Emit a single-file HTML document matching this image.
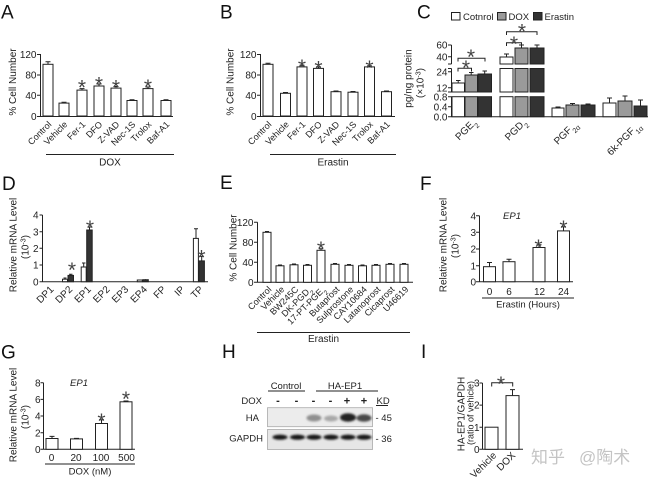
<!DOCTYPE html>
<html><head><meta charset="utf-8"><style>
html,body{margin:0;padding:0;background:#fff;}
svg{display:block;}
text{font-family:"Liberation Sans",Arial,sans-serif;fill:#222;}
.ax{stroke:#222;stroke-width:1;fill:none}
.b{fill:#fff;stroke:#222;stroke-width:1}
.g{fill:#9a9a9a;stroke:#222;stroke-width:1}
.k{fill:#333;stroke:#222;stroke-width:1}
.s{font-size:21px;text-anchor:middle;fill:#444}
.L{font-size:19px;fill:#111}
.tk{font-size:10px;text-anchor:end}
.xl{font-size:9px;text-anchor:end}
.xd{font-size:10px;text-anchor:end}
.yl{font-size:10px;text-anchor:middle}
.c{text-anchor:middle}
</style></head><body>
<svg width="652" height="482" viewBox="0 0 652 482" xmlns="http://www.w3.org/2000/svg">
<defs><filter id="bl" x="-50%" y="-100%" width="200%" height="300%"><feGaussianBlur stdDeviation="1.1"/></filter></defs>
<rect width="652" height="482" fill="#fff"/>

<!-- Panel letters -->
<text class="L" x="1" y="18.5">A</text>
<text class="L" x="220" y="18.5">B</text>
<text class="L" x="417" y="18.5">C</text>
<text class="L" x="2" y="190">D</text>
<text class="L" x="220" y="189">E</text>
<text class="L" x="420" y="190">F</text>
<text class="L" x="1" y="358.5">G</text>
<text class="L" x="222" y="358">H</text>
<text class="L" x="421" y="358">I</text>

<!-- ===== Panel A ===== -->
<path class="ax" d="M40.5 54V116.5H173M37 54.5H40.5M37 75H40.5M37 95.3H40.5M37 116.5H40.5"/>
<text class="tk" x="36.5" y="58">120</text>
<text class="tk" x="36.5" y="78.5">80</text>
<text class="tk" x="36.5" y="99">40</text>
<text class="tk" x="36.5" y="120">0</text>
<text class="yl" transform="translate(16.2,82) rotate(-90)">% Cell Number</text>
<g class="b">
<rect x="43" y="64.3" width="10" height="51.7"/>
<rect x="59" y="103.1" width="10" height="12.9"/>
<rect x="77" y="90.1" width="10" height="25.9"/>
<rect x="94" y="86" width="10" height="30"/>
<rect x="111" y="88.1" width="10" height="27.9"/>
<rect x="127" y="100.5" width="10" height="15.5"/>
<rect x="143" y="88.6" width="10" height="27.4"/>
<rect x="161" y="100.5" width="10" height="15.5"/>
</g>
<path class="ax" d="M48 64.3V61.7M45.5 61.7H50.5M64 103.1V102.3M61.5 102.3H66.5M82 90.1V88.6M79.5 88.6H84.5M99 86V84M96.5 84H101.5M116 88.1V86.5M113.5 86.5H118.5M132 100.5V99.7M129.5 99.7H134.5M148 88.6V87M145.5 87H150.5M166 100.5V99.7M163.5 99.7H168.5"/>
<text class="s" x="82" y="94.3">*</text>
<text class="s" x="99" y="91.3">*</text>
<text class="s" x="116" y="94.3">*</text>
<text class="s" x="148" y="93.8">*</text>
<text class="xl" transform="translate(52,125) rotate(-45)">Control</text>
<text class="xl" transform="translate(68,125) rotate(-45)">Vehicle</text>
<text class="xl" transform="translate(86,125) rotate(-45)">Fer-1</text>
<text class="xl" transform="translate(103,125) rotate(-45)">DFO</text>
<text class="xl" transform="translate(120,125) rotate(-45)">Z-VAD</text>
<text class="xl" transform="translate(136,125) rotate(-45)">Nec-1S</text>
<text class="xl" transform="translate(152,125) rotate(-45)">Trolox</text>
<text class="xl" transform="translate(170,125) rotate(-45)">Baf-A1</text>
<path class="ax" d="M46 154.5H174"/>
<text class="c" x="110" y="165.5" font-size="10">DOX</text>

<!-- ===== Panel B ===== -->
<path class="ax" d="M260.5 54V116.5H395M257 54.5H260.5M257 75H260.5M257 95.3H260.5M257 116.5H260.5"/>
<text class="tk" x="256.5" y="58">120</text>
<text class="tk" x="256.5" y="78.5">80</text>
<text class="tk" x="256.5" y="99">40</text>
<text class="tk" x="256.5" y="120">0</text>
<text class="yl" transform="translate(233.5,82) rotate(-90)">% Cell Number</text>
<g class="b">
<rect x="263" y="64.3" width="10" height="51.7"/>
<rect x="280.5" y="93.3" width="10" height="22.7"/>
<rect x="297" y="66.9" width="10" height="49.1"/>
<rect x="313.5" y="68.4" width="10" height="47.6"/>
<rect x="331" y="91.7" width="10" height="24.3"/>
<rect x="348" y="92.2" width="10" height="23.8"/>
<rect x="364.5" y="66.9" width="10" height="49.1"/>
<rect x="381.5" y="91.7" width="10" height="24.3"/>
</g>
<path class="ax" d="M268 64.3V63.3M265.5 63.3H270.5M285.5 93.3V92.5M283 92.5H288M302 66.9V65.3M299.5 65.3H304.5M318.5 68.4V66.9M316 66.9H321M336 91.7V91M333.5 91H338.5M353 92.2V91.5M350.5 91.5H355.5M369.5 66.9V65.9M367 65.9H372M386.5 91.7V91M384 91H389"/>
<text class="s" x="302" y="73.8">*</text>
<text class="s" x="318.5" y="75.3">*</text>
<text class="s" x="369.5" y="74.8">*</text>
<text class="xl" transform="translate(272,125) rotate(-45)">Control</text>
<text class="xl" transform="translate(289.5,125) rotate(-45)">Vehicle</text>
<text class="xl" transform="translate(306,125) rotate(-45)">Fer-1</text>
<text class="xl" transform="translate(322.5,125) rotate(-45)">DFO</text>
<text class="xl" transform="translate(340,125) rotate(-45)">Z-VAD</text>
<text class="xl" transform="translate(357,125) rotate(-45)">Nec-1S</text>
<text class="xl" transform="translate(373.5,125) rotate(-45)">Trolox</text>
<text class="xl" transform="translate(390.5,125) rotate(-45)">Baf-A1</text>
<path class="ax" d="M270 154.5H396"/>
<text class="c" x="333" y="165.5" font-size="10">Erastin</text>

<!-- ===== Panel C ===== -->
<rect x="451.5" y="12.5" width="8.5" height="7.5" class="b"/>
<text x="463" y="19.8" font-size="9.5">Cotnrol</text>
<rect x="497.5" y="12.5" width="8.5" height="7.5" class="g"/>
<text x="508.5" y="19.8" font-size="9.5">DOX</text>
<rect x="533.5" y="12.5" width="8.5" height="7.5" class="k"/>
<text x="544.5" y="19.8" font-size="9.5">Erastin</text>
<text class="yl" transform="translate(411.5,78.5) rotate(-90)">pg/ng protein</text>
<text class="yl" transform="translate(423.5,83) rotate(-90)">(×10<tspan font-size="7" baseline-shift="super">-3</tspan>)</text>
<path class="ax" d="M451.5 45V64M451.5 68.5V92M451.5 96.7V116.7H648M448 45H451.5M448 56.7H451.5M448 64H451.5M448 68.5H451.5M448 71.7H451.5M448 87.7H451.5M448 92H451.5M448 96.7H451.5M448 106.7H451.5M448 116.7H451.5"/>
<text class="tk" x="447.5" y="48.6">60</text>
<text class="tk" x="447.5" y="60.3">40</text>
<text class="tk" x="447.5" y="75.3">24</text>
<text class="tk" x="447.5" y="91.3">12</text>
<text class="tk" x="447.5" y="100.3">0.8</text>
<text class="tk" x="447.5" y="110.3">0.4</text>
<text class="tk" x="447.5" y="120.3">0.0</text>
<!-- PGE2 -->
<rect class="b" x="452" y="83" width="12.5" height="9"/><rect class="b" x="452" y="96.7" width="12.5" height="20"/>
<rect class="g" x="465" y="75" width="12.5" height="17"/><rect class="g" x="465" y="96.7" width="12.5" height="20"/>
<rect class="k" x="478" y="74" width="13.5" height="18"/><rect class="k" x="478" y="96.7" width="13.5" height="20"/>
<!-- PGD2 -->
<rect class="b" x="500" y="57" width="13" height="7"/><rect class="b" x="500" y="68.5" width="13" height="23.5"/><rect class="b" x="500" y="96.7" width="13" height="20"/>
<rect class="g" x="515" y="48" width="13" height="16"/><rect class="g" x="515" y="68.5" width="13" height="23.5"/><rect class="g" x="515" y="96.7" width="13" height="20"/>
<rect class="k" x="530" y="48" width="14" height="16"/><rect class="k" x="530" y="68.5" width="14" height="23.5"/><rect class="k" x="530" y="96.7" width="14" height="20"/>
<!-- PGF2a -->
<rect class="b" x="552" y="108" width="12" height="8.7"/>
<rect class="g" x="566" y="105" width="13" height="11.7"/>
<rect class="k" x="581" y="105" width="14" height="11.7"/>
<!-- 6k -->
<rect class="b" x="603" y="103" width="13" height="13.7"/>
<rect class="g" x="618" y="101" width="14" height="15.7"/>
<rect class="k" x="634" y="106" width="13" height="10.7"/>
<path class="ax" d="M458.2 83V80.5M456 80.5H460.5M471.2 75V72.5M469 72.5H473.5M484.7 74V71M482.5 71H487M506.5 57V54M504 54H509M521.5 48V45M519 45H524M537 48V45M534.5 45H539.5M558 108V107M555.5 107H560.5M572.5 105V103.5M570 103.5H575M588 105V104M585.5 104H590.5M609.5 103V98M607 98H612M625 101V96M622.5 96H627.5M640.5 106V100M638 100H643"/>
<path class="ax" d="M458 71.5V68.3H471.5V71.5M458 61.5V58.3H485V61.5M506.5 46V42.7H521.5V46M506.5 35V31.7H537V35"/>
<text class="s" x="466" y="74.8">*</text>
<text class="s" x="471" y="63.8">*</text>
<text class="s" x="514" y="50.8">*</text>
<text class="s" x="522" y="38.3">*</text>
<text class="xd" transform="translate(477,123) rotate(-45)">PGE<tspan font-size="7" baseline-shift="sub">2</tspan></text>
<text class="xd" transform="translate(527,123) rotate(-45)">PGD<tspan font-size="7" baseline-shift="sub">2</tspan></text>
<text class="xd" transform="translate(578,125) rotate(-45)">PGF<tspan font-size="7" baseline-shift="sub">2α</tspan></text>
<text class="xd" transform="translate(641,126) rotate(-45)">6k-PGF<tspan font-size="7" baseline-shift="sub">1α</tspan></text>

<!-- ===== Panel D ===== -->
<path class="ax" d="M42.5 215V281.7H208M39.5 215H42.5M39.5 231.7H42.5M39.5 248.3H42.5M39.5 265H42.5M39.5 281.7H42.5"/>
<text class="tk" x="38.5" y="218.6">4</text>
<text class="tk" x="38.5" y="235.3">3</text>
<text class="tk" x="38.5" y="251.9">2</text>
<text class="tk" x="38.5" y="268.6">1</text>
<text class="tk" x="38.5" y="285.3">0</text>
<text class="yl" transform="translate(16.5,245) rotate(-90)">Relative mRNA Level</text>
<text class="yl" transform="translate(28.5,247) rotate(-90)">(10<tspan font-size="7" baseline-shift="super">-3</tspan>)</text>
<g class="b">
<rect x="62.5" y="279.2" width="5" height="2.5"/>
<rect x="81.2" y="267" width="5" height="14.7"/>
<rect x="193.4" y="238.4" width="5" height="43.3"/>
<rect x="137.3" y="280" width="5" height="1.7"/>
</g>
<g class="k">
<rect x="68" y="275.4" width="5.5" height="6.3"/>
<rect x="86.7" y="230" width="5.5" height="51.7"/>
<rect x="198.9" y="260.9" width="5.5" height="20.8"/>
<rect x="142.8" y="279.7" width="5.5" height="2"/>
</g>
<path class="ax" d="M65 279.2V278M63.5 278H66.5M70.7 275.4V274.2M69 274.2H72.5M83.7 267V263M82 263H85.5M89.5 230V227M87.5 227H91.5M196 238.4V228.7M194 228.7H198M201.7 260.9V256.4M199.7 256.4H203.7M145.5 279.7V279.2"/>
<text class="s" x="72" y="276.8">*</text>
<text class="s" x="90" y="234.8">*</text>
<text class="s" x="201.5" y="264.3">*</text>
<text class="xd" transform="translate(54.3,290) rotate(-45)">DP1</text>
<text class="xd" transform="translate(73,290) rotate(-45)">DP2</text>
<text class="xd" transform="translate(91.7,290) rotate(-45)">EP1</text>
<text class="xd" transform="translate(110.4,290) rotate(-45)">EP2</text>
<text class="xd" transform="translate(129.1,290) rotate(-45)">EP3</text>
<text class="xd" transform="translate(147.8,290) rotate(-45)">EP4</text>
<text class="xd" transform="translate(166.5,290) rotate(-45)">FP</text>
<text class="xd" transform="translate(185.2,290) rotate(-45)">IP</text>
<text class="xd" transform="translate(203.9,290) rotate(-45)">TP</text>

<!-- ===== Panel E ===== -->
<path class="ax" d="M257.5 222.3V282.3H413M254 222.3H257.5M254 242.3H257.5M254 262.3H257.5M254 282.3H257.5"/>
<text class="tk" x="253.5" y="225.9">120</text>
<text class="tk" x="253.5" y="245.9">80</text>
<text class="tk" x="253.5" y="265.9">40</text>
<text class="tk" x="253.5" y="285.9">0</text>
<text class="yl" transform="translate(236.5,248) rotate(-90)">% Cell Number</text>
<g class="b">
<rect x="263" y="232.3" width="8" height="50"/>
<rect x="276" y="265.8" width="8" height="16.5"/>
<rect x="290" y="264.8" width="8" height="17.5"/>
<rect x="303.5" y="265.3" width="8" height="17"/>
<rect x="317" y="250.3" width="8" height="32"/>
<rect x="331" y="264.3" width="8" height="18"/>
<rect x="345" y="265.3" width="8" height="17"/>
<rect x="358.5" y="265.8" width="8" height="16.5"/>
<rect x="372" y="265.3" width="8" height="17"/>
<rect x="386" y="264.3" width="8" height="18"/>
<rect x="400" y="264.3" width="8" height="18"/>
</g>
<path class="ax" d="M267 232.3V231.5M265 231.5H269M280 265.8V265M278 265H282M294 264.8V264M292 264H296M307.5 265.3V264.5M305.5 264.5H309.5M321 250.3V248.8M319 248.8H323M335 264.3V263.5M333 263.5H337M349 265.3V264.5M347 264.5H351M362.5 265.8V265M360.5 265H364.5M376 265.3V264.5M374 264.5H378M390 264.3V263.5M388 263.5H392M404 264.3V263.5M402 263.5H406"/>
<text class="s" x="321" y="255.8">*</text>
<text class="xl" transform="translate(272,290) rotate(-45)">Control</text>
<text class="xl" transform="translate(285,290) rotate(-45)">Vehicle</text>
<text class="xl" transform="translate(299,290) rotate(-45)">BW245C</text>
<text class="xl" transform="translate(312.5,290) rotate(-45)">DK-PGD<tspan font-size="6.5" baseline-shift="sub">2</tspan></text>
<text class="xl" transform="translate(326,290) rotate(-45)">17-PT-PGE<tspan font-size="6.5" baseline-shift="sub">2</tspan></text>
<text class="xl" transform="translate(340,290) rotate(-45)">Butaprost</text>
<text class="xl" transform="translate(354,290) rotate(-45)">Sulprostone</text>
<text class="xl" transform="translate(367.5,290) rotate(-45)">CAY10684</text>
<text class="xl" transform="translate(381,290) rotate(-45)">Latanoprost</text>
<text class="xl" transform="translate(395,290) rotate(-45)">Cicaprost</text>
<text class="xl" transform="translate(409,290) rotate(-45)">U46619</text>
<path class="ax" d="M257 332.5H410"/>
<text class="c" x="323.5" y="342" font-size="10">Erastin</text>

<!-- ===== Panel F ===== -->
<path class="ax" d="M479.5 215.7V281.7H573M476 215.7H479.5M476 232.3H479.5M476 249H479.5M476 265.7H479.5M476 281.7H479.5"/>
<text class="tk" x="476" y="219.3">4</text>
<text class="tk" x="476" y="235.9">3</text>
<text class="tk" x="476" y="252.6">2</text>
<text class="tk" x="476" y="269.3">1</text>
<text class="tk" x="476" y="285.3">0</text>
<text class="yl" transform="translate(446.5,245) rotate(-90)">Relative mRNA Level</text>
<text class="yl" transform="translate(458.5,246) rotate(-90)">(10<tspan font-size="7" baseline-shift="super">-3</tspan>)</text>
<text x="512" y="219" font-size="9.5" font-style="italic" class="c">EP1</text>
<g class="b">
<rect x="483.5" y="266.7" width="12" height="15"/>
<rect x="503" y="261.7" width="12" height="20"/>
<rect x="533" y="247.5" width="12" height="34.2"/>
<rect x="557.5" y="230.9" width="12" height="50.8"/>
</g>
<path class="ax" d="M489.5 266.7V262.5M487 262.5H492M509 261.7V259.2M506.5 259.2H511.5M539 247.5V244.7M536.5 244.7H541.5M563.5 230.9V226.7M561 226.7H566"/>
<text class="s" x="538.5" y="253.8">*</text>
<text class="s" x="563.5" y="234.8">*</text>
<text class="c" x="489.5" y="295" font-size="10">0</text>
<text class="c" x="509" y="295" font-size="10">6</text>
<text class="c" x="539.5" y="295" font-size="10">12</text>
<text class="c" x="563.5" y="295" font-size="10">24</text>
<path class="ax" d="M482 298H574"/>
<text class="c" x="528" y="307.5" font-size="9.5">Erastin (Hours)</text>

<!-- ===== Panel G ===== -->
<path class="ax" d="M43.5 382.7V449.3H135M40.5 382.7H43.5M40.5 399.4H43.5M40.5 416H43.5M40.5 432.7H43.5M40.5 449.3H43.5"/>
<text class="tk" x="40.5" y="386.3">8</text>
<text class="tk" x="40.5" y="403">6</text>
<text class="tk" x="40.5" y="419.6">4</text>
<text class="tk" x="40.5" y="436.3">2</text>
<text class="tk" x="40.5" y="452.9">0</text>
<text class="yl" transform="translate(16.5,415) rotate(-90)">Relative mRNA Level</text>
<text class="yl" transform="translate(28.5,417) rotate(-90)">(10<tspan font-size="7" baseline-shift="super">-3</tspan>)</text>
<text x="79" y="386" font-size="9.5" font-style="italic" class="c">EP1</text>
<g class="b">
<rect x="46" y="438.5" width="12" height="10.8"/>
<rect x="70.5" y="438.9" width="12" height="10.4"/>
<rect x="95.5" y="423.5" width="12" height="25.8"/>
<rect x="120" y="401.8" width="12" height="47.5"/>
</g>
<path class="ax" d="M52 438.5V436.4M49.5 436.4H54.5M76.5 438.9V438.4M74 438.4H79M101.5 423.5V419.7M99 419.7H104M126 401.8V401M123.5 401H128.5"/>
<text class="s" x="101.5" y="427.8">*</text>
<text class="s" x="126" y="405.8">*</text>
<text class="c" x="51.5" y="461" font-size="10">0</text>
<text class="c" x="76" y="461" font-size="10">20</text>
<text class="c" x="101" y="461" font-size="10">100</text>
<text class="c" x="126.5" y="461" font-size="10">500</text>
<path class="ax" d="M45 464H135"/>
<text class="c" x="90" y="474.5" font-size="9.5">DOX (nM)</text>

<!-- ===== Panel H ===== -->
<text class="c" x="286" y="389" font-size="9.5">Control</text>
<path class="ax" d="M268 391H305M316 391H378M376 405.5H388"/>
<text class="c" x="345" y="389" font-size="9.5">HA-EP1</text>
<text x="262" y="404" font-size="9.5" text-anchor="end">DOX</text>
<g font-size="11" font-weight="bold" text-anchor="middle" fill="#222">
<text x="278" y="404">-</text>
<text x="296.5" y="404">-</text>
<text x="313.5" y="404">-</text>
<text x="330.5" y="404">-</text>
<text x="347" y="404.5">+</text>
<text x="364" y="404.5">+</text>
</g>
<text x="376.5" y="404" font-size="9.5">KD</text>
<rect x="267.5" y="407.7" width="105" height="19" fill="#ececec" stroke="#aaa" stroke-width="0.8"/>
<g filter="url(#bl)">
<ellipse cx="314" cy="418" rx="7.5" ry="3.5" fill="#8f8f8f"/>
<ellipse cx="331" cy="418.5" rx="7" ry="3" fill="#a8a8a8"/>
<ellipse cx="348" cy="417.5" rx="8" ry="4.2" fill="#222"/>
<ellipse cx="364" cy="418" rx="7.5" ry="3.8" fill="#4a4a4a"/>
</g>
<text x="259" y="421" font-size="9.5" text-anchor="end">HA</text>
<text x="375.5" y="421" font-size="9.5">- 45</text>
<rect x="267.5" y="429.5" width="105" height="20" fill="#e6e6e6" stroke="#aaa" stroke-width="0.8"/>
<g filter="url(#bl)" fill="#151515">
<ellipse cx="280" cy="437.2" rx="7.5" ry="2.6"/>
<ellipse cx="297.5" cy="437.2" rx="7.5" ry="2.6"/>
<ellipse cx="314" cy="437.2" rx="7.5" ry="2.6"/>
<ellipse cx="331" cy="437.2" rx="7.5" ry="2.6"/>
<ellipse cx="348" cy="437.2" rx="7.5" ry="2.6"/>
<ellipse cx="364" cy="437.2" rx="7.5" ry="2.6"/>
</g>
<text x="263" y="441.5" font-size="9.5" text-anchor="end">GAPDH</text>
<text x="375.5" y="442" font-size="9.5">- 36</text>

<!-- ===== Panel I ===== -->
<path class="ax" d="M482.5 383V449.3H523M479.5 383H482.5M479.5 405.1H482.5M479.5 427.2H482.5M479.5 449.3H482.5"/>
<text class="tk" x="479.5" y="386.6">3</text>
<text class="tk" x="479.5" y="408.7">2</text>
<text class="tk" x="479.5" y="430.8">1</text>
<text class="tk" x="479.5" y="452.9">0</text>
<text class="yl" transform="translate(464.5,414) rotate(-90)">HA-EP1/GAPDH</text>
<text class="c" font-size="9" transform="translate(473.5,413) rotate(-90)">(ratio of vehicle)</text>
<g class="b">
<rect x="485" y="427.2" width="13" height="22.1"/>
<rect x="506" y="395.6" width="13" height="53.7"/>
</g>
<path class="ax" d="M512.5 395.6V389.6M510 389.6H515M491.7 386.5V382.7H512.7V386.5"/>
<text class="s" x="501" y="390.8">*</text>
<text class="xd" transform="translate(497,456) rotate(-45)">Vehicle</text>
<text class="xd" transform="translate(516,456) rotate(-45)">DOX</text>

<!-- watermark -->
<text x="531" y="463" font-size="17" style="font-family:'Noto Sans CJK SC','WenQuanYi Zen Hei',sans-serif;fill:#c4c4c4">知乎</text>
<text x="579" y="463" font-size="17" style="font-family:'Liberation Sans','Noto Sans CJK SC',sans-serif;fill:#c4c4c4">@陶术</text>
</svg>
</body></html>
